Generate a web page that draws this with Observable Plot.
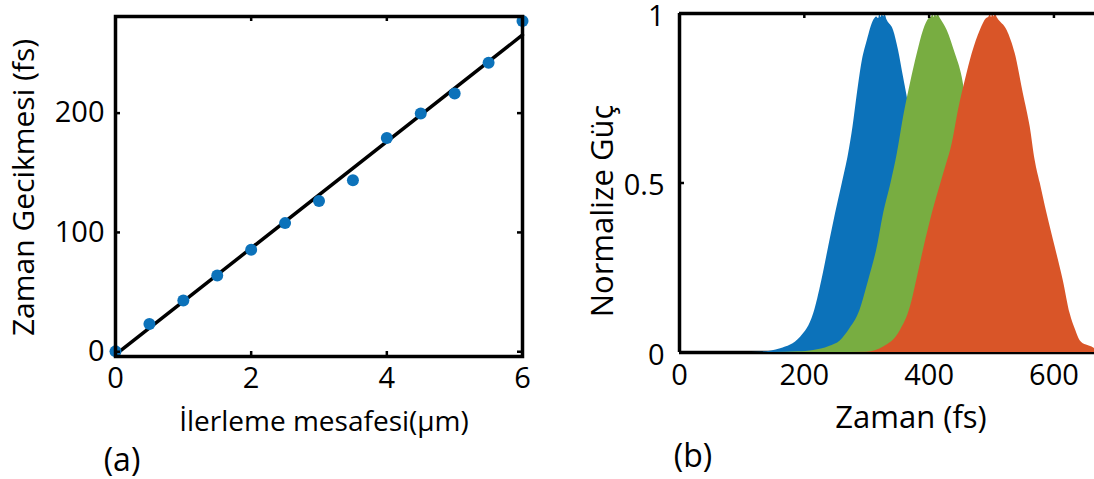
<!DOCTYPE html>
<html>
<head>
<meta charset="utf-8">
<script src="https://cdn.jsdelivr.net/npm/d3@7"></script>
<script src="https://cdn.jsdelivr.net/npm/@observablehq/plot@0.6"></script>
<style>
  html, body { margin: 0; padding: 0; background: #fff; }
  #wrap { position: relative; width: 1094px; height: 479px; overflow: hidden; background: #fff; }
  #wrap svg { position: absolute; top: 0; }
</style>
</head>
<body>
<div id="wrap"></div>
<script>
// ---------- Panel (a): delay vs. stage displacement ----------
const stepUm   = [0, 0.5, 1, 1.5, 2, 2.5, 3, 3.5, 4, 4.5, 5, 5.5, 6];
const delayFs  = [0.3, 23.3, 42.9, 63.9, 85.5, 107.8, 126.3, 143.7, 179.2, 199.7, 216.5, 242.3, 277.3];
const fitUm    = [0, 6];
const fitFs    = [-2.5, 265.5];
const xTicksA  = [0, 2, 4, 6];
const yTicksA  = [0, 100, 200];

// ---------- Panel (b): normalized power vs. time ----------
const blueT  = [0, 100, 130, 162, 194, 215, 228, 239, 250, 261, 271, 278, 285, 293, 301, 311, 316, 319, 321, 323, 325, 327, 329, 333, 343, 351, 359, 365, 372, 379, 389, 400, 411, 422, 435, 456, 488, 520, 560, 665];
const blueP  = [0, 0, 0.001, 0.011, 0.045, 0.114, 0.212, 0.311, 0.409, 0.5, 0.586, 0.665, 0.763, 0.861, 0.92, 0.979, 0.99, 0.985, 0.997, 0.988, 1.0, 0.99, 0.997, 0.979, 0.95, 0.891, 0.812, 0.753, 0.665, 0.586, 0.5, 0.409, 0.311, 0.212, 0.114, 0.045, 0.011, 0.001, 0, 0];
const greenT = [0, 150, 190, 215, 240, 258, 273, 287, 303, 317, 327, 339, 349, 359, 370, 381, 391, 400, 404, 406, 408, 410, 412, 414, 418, 429, 442, 453, 461, 470, 481, 492, 503, 517, 533, 547, 562, 580, 605, 630, 665];
const greenP = [0, 0, 0.002, 0.006, 0.018, 0.035, 0.07, 0.114, 0.212, 0.311, 0.409, 0.5, 0.586, 0.694, 0.793, 0.881, 0.95, 0.985, 0.99, 0.998, 0.988, 1.0, 0.99, 0.998, 0.985, 0.95, 0.881, 0.812, 0.72, 0.6, 0.5, 0.409, 0.311, 0.212, 0.114, 0.07, 0.035, 0.018, 0.006, 0.002, 0];
const orangeT = [0, 250, 300, 327, 354, 370, 380, 392, 405, 419, 427, 437, 447, 458, 469, 482, 492, 496, 498, 500, 502, 504, 506, 510, 525, 538, 551, 562, 570, 578, 589, 602, 615, 626, 635, 642, 652, 661, 665];
const orangeP = [0, 0, 0.001, 0.016, 0.065, 0.134, 0.212, 0.311, 0.409, 0.5, 0.55, 0.616, 0.714, 0.802, 0.881, 0.95, 0.985, 0.99, 0.998, 0.988, 1.0, 0.99, 0.998, 0.985, 0.95, 0.881, 0.763, 0.665, 0.566, 0.5, 0.409, 0.311, 0.212, 0.114, 0.065, 0.035, 0.022, 0.016, 0.012];
const xTicksB = [0, 200, 400, 600];
const yTicksB = [0, 0.5, 1];

const BLUE = "#0c72ba", GREEN = "#78ad41", ORANGE = "#d95528";
const FONT = "'Open Sans', 'Noto Sans', sans-serif";
const FS = 29;
const fmt = d => String(d);

const dots = stepUm.map((x, i) => ({x, y: delayFs[i]}));
const fit  = fitUm.map((x, i) => ({x, y: fitFs[i]}));
const series = (T, P) => T.map((t, i) => ({t, p: P[i]}));

const wrap = document.getElementById("wrap");

// Panel (a)
const A = {w: 540, h: 479, ml: 115, mr: 18, mt: 16, mb: 123};
const aW = A.w - A.ml - A.mr, aH = A.h - A.mt - A.mb;
const plotA = Plot.plot({
  width: A.w, height: A.h,
  marginLeft: A.ml, marginRight: A.mr, marginTop: A.mt, marginBottom: A.mb,
  style: {fontFamily: FONT, fontSize: FS + "px", color: "black", background: "transparent", overflow: "visible"},
  x: {domain: [0, 6]},
  y: {domain: [-4, 281]},
  marks: [
    Plot.line(fit, {x: "x", y: "y", stroke: "black", strokeWidth: 3.5}),
    Plot.dot(dots, {x: "x", y: "y", r: 6, fill: BLUE, stroke: "none"}),
    Plot.ruleX(xTicksA, {insetTop: aH - 5, strokeWidth: 2.5, stroke: "black"}),
    Plot.ruleX(xTicksA, {insetBottom: aH - 5, strokeWidth: 2.5, stroke: "black"}),
    Plot.ruleY(yTicksA, {insetRight: aW - 5, strokeWidth: 2.5, stroke: "black"}),
    Plot.ruleY(yTicksA, {insetLeft: aW - 5, strokeWidth: 2.5, stroke: "black"}),
    Plot.frame({stroke: "black", strokeWidth: 3.5}),
    Plot.axisX({ticks: xTicksA, tickFormat: fmt, tickSize: 0, tickPadding: 11, fontSize: FS, label: null}),
    Plot.axisY({ticks: yTicksA, tickFormat: fmt, tickSize: 0, tickPadding: 11, fontSize: FS, label: null}),
    Plot.text(["İlerleme mesafesi(µm)"], {frameAnchor: "bottom", dx: 5, dy: 66, fontSize: FS - 1, textAnchor: "middle", lineAnchor: "middle", fill: "black"}),
    Plot.text(["Zaman Gecikmesi (fs)"], {frameAnchor: "left", dx: -91, dy: 1, rotate: -90, fontSize: FS + 1, textAnchor: "middle", lineAnchor: "middle", fill: "black"}),
    Plot.text(["(a)"], {frameAnchor: "bottom", dx: -197, dy: 104, fontSize: FS + 3, textAnchor: "middle", lineAnchor: "middle", fill: "black"})
  ]
});
plotA.style.left = "0px";
wrap.appendChild(plotA);

// Panel (b)
const B = {w: 534, h: 479, ml: 119, mr: 0, mt: 13, mb: 127};
const bW = B.w - B.ml - B.mr, bH = B.h - B.mt - B.mb;
const plotB = Plot.plot({
  width: B.w, height: B.h,
  marginLeft: B.ml, marginRight: B.mr, marginTop: B.mt, marginBottom: B.mb,
  style: {fontFamily: FONT, fontSize: FS + "px", color: "black", background: "transparent", overflow: "visible"},
  x: {domain: [0, 665]},
  y: {domain: [0, 1]},
  marks: [
    Plot.ruleY([0], {stroke: "black", strokeWidth: 3.5}),
    Plot.areaY(series(blueT, blueP), {x: "t", y: "p", fill: BLUE, curve: "monotone-x"}),
    Plot.areaY(series(greenT, greenP), {x: "t", y: "p", fill: GREEN, curve: "monotone-x"}),
    Plot.areaY(series(orangeT, orangeP), {x: "t", y: "p", fill: ORANGE, curve: "monotone-x"}),
    Plot.ruleX(xTicksB.slice(1), {insetBottom: bH - 5, strokeWidth: 2.5, stroke: "black"}),
    Plot.ruleY([0.5], {insetRight: bW - 5, strokeWidth: 2.5, stroke: "black"}),
    Plot.ruleY([1], {stroke: "black", strokeWidth: 3.5}),
    Plot.ruleX([0], {stroke: "black", strokeWidth: 3.5}),
    Plot.axisX({ticks: xTicksB, tickFormat: fmt, tickSize: 0, tickPadding: 12, fontSize: FS, label: null}),
    Plot.axisY({ticks: yTicksB, tickFormat: fmt, tickSize: 0, tickPadding: 15, dy: 3, fontSize: FS, label: null}),
    Plot.text(["Zaman (fs)"], {frameAnchor: "bottom", dx: 24, dy: 66, fontSize: FS + 2, textAnchor: "middle", lineAnchor: "middle", fill: "black"}),
    Plot.text(["Normalize Güç"], {frameAnchor: "left", dx: -76, dy: 28, rotate: -90, fontSize: FS + 2, textAnchor: "middle", lineAnchor: "middle", fill: "black"}),
    Plot.text(["(b)"], {frameAnchor: "bottom", dx: -194, dy: 104, fontSize: FS + 3, textAnchor: "middle", lineAnchor: "middle", fill: "black"})
  ]
});
plotB.style.left = "560px";
wrap.appendChild(plotB);
</script>
</body>
</html>
